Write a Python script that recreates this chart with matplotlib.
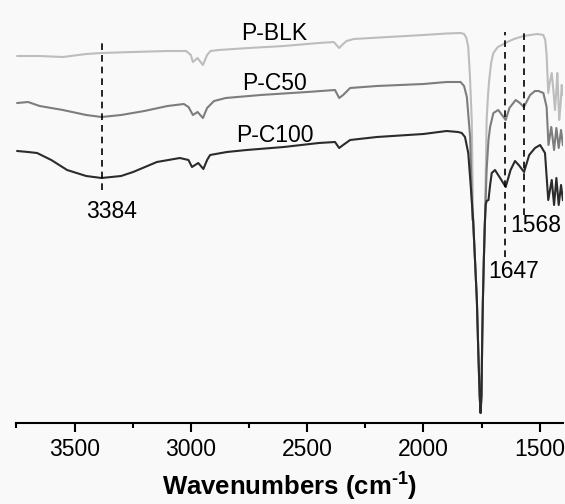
import matplotlib
matplotlib.use('Agg')
import matplotlib.pyplot as plt

plt.rcParams['font.family'] = ['Liberation Sans', 'DejaVu Sans']
plt.rcParams['mathtext.fontset'] = 'custom'
plt.rcParams['mathtext.rm'] = 'Liberation Sans:bold'
plt.rcParams['mathtext.bf'] = 'Liberation Sans:bold'

# common shape of the strong C=O band (wavenumber, level)
dip_wn = [1786, 1778, 1770, 1764, 1758, 1754, 1750, 1747, 1744, 1740]
dip_y = [203, 163, 123, 73, 28, 10, 28, 83, 123, 163]

# P-BLK
blk_wn = [3746, 3650, 3550, 3450, 3384, 3250, 3100, 3020, 3000, 2991, 2971, 2948, 2930, 2915,
          2880, 2750, 2600, 2450, 2385, 2370, 2362, 2350, 2330, 2300, 2150, 2000, 1900, 1840,
          1825, 1815, 1807, 1800, 1792] + dip_wn + \
         [1735, 1728, 1722, 1717, 1708, 1699, 1680, 1663, 1647, 1630, 1610, 1590, 1568, 1540,
          1510, 1484, 1476, 1470, 1463, 1456, 1448, 1441, 1434, 1428, 1424, 1420, 1416, 1410,
          1405, 1400]
blk_y = [367, 367, 366, 369, 370, 371, 372, 372, 368, 361, 365, 358, 368, 372,
         373, 375, 377, 380, 381, 377, 375, 378, 382, 384, 386, 388, 389.5, 390,
         389, 385, 376, 348, 303] + dip_y + \
        [203, 303, 328, 343, 361, 370, 376, 378, 380, 382, 384, 385.5, 387, 388,
         389, 388, 383, 368, 330, 341, 350, 333, 313, 333, 350, 328, 303, 318,
         338, 328]

# P-C50
c50_wn = [3746, 3700, 3650, 3550, 3450, 3384, 3300, 3200, 3100, 3030, 3010, 2991, 2971, 2948,
          2930, 2900, 2850, 2700, 2500, 2380, 2362, 2345, 2315, 2200, 2000, 1900, 1840, 1825,
          1813, 1799, 1789] + dip_wn + \
         [1735, 1728, 1720, 1713, 1699, 1678, 1665, 1646, 1630, 1603, 1585, 1568, 1541, 1520,
          1505, 1484, 1470, 1462, 1450, 1438, 1428, 1418, 1408, 1400]
c50_y = [320, 321, 317, 313, 308, 306, 308, 312, 317, 319, 316, 308, 311, 305,
         315, 322, 325, 328, 331, 333, 325, 328, 335, 337, 339, 341, 341, 337,
         326, 286, 203] + dip_y + \
        [203, 253, 283, 296, 310, 313, 309, 303, 315, 323, 320, 316, 328, 332,
         332, 330, 316, 278, 296, 273, 295, 275, 293, 278]

# P-C100
c100_wn = [3746, 3700, 3661, 3600, 3532, 3450, 3384, 3300, 3248, 3146, 3047, 3010, 2995, 2968,
           2946, 2930, 2917, 2845, 2760, 2600, 2450, 2380, 2362, 2345, 2315, 2200, 2000, 1900,
           1851, 1835, 1821, 1807, 1796, 1786] + dip_wn + \
          [1736, 1732, 1728, 1720, 1713, 1706, 1692, 1670, 1646, 1625, 1606, 1590, 1567, 1545,
           1520, 1498, 1477, 1463, 1448, 1438, 1428, 1418, 1408, 1400]
c100_y = [272, 271, 270, 263, 253, 247, 245, 247, 251, 261, 265, 263, 256, 260,
          254, 263, 268, 271, 273, 276, 280, 281, 275, 278, 283, 286, 289, 292,
          291, 290, 286, 270, 236, 203] + dip_y + \
         [198, 218, 222, 223, 238, 250, 253, 245, 236, 253, 262, 258, 251, 268,
          275, 278, 270, 223, 243, 218, 245, 218, 238, 223]

series = [('P-BLK', blk_wn, blk_y, '#bdbdbd', 390),
          ('P-C50', c50_wn, c50_y, '#7d7d7d', 340),
          ('P-C100', c100_wn, c100_y, '#2b2b2b', 288)]

# marked peaks: (wavenumber, top, bottom, label x, label y)
marks = [(3384, 384, 233, 3339, 211),
         (1647, 391, 166, 1611, 151),
         (1568, 393, 208, 1517, 198)]

fig = plt.figure(figsize=(5.65, 5.04), dpi=100, facecolor='#f9f9f9')
ax = fig.add_axes([16.4 / 565, 81 / 504, 546.5 / 565, 423 / 504])
ax.set_facecolor('#f9f9f9')

for name, wn, y, col, ly in series:
    ax.plot(wn, y, color=col, lw=1.5, solid_joinstyle='round')

for name, wn, y, col, ly in series:
    ax.text(2640, ly, name, ha='center', va='center', fontsize=16.5)

for wn, top, bot, lx, ly in marks:
    ax.plot([wn, wn], [bot, top], color='black', lw=1.2, dashes=(4, 3))
    ax.text(lx, ly, str(wn), ha='center', va='center', fontsize=16.5)

ax.set_xlim(3750, 1400)
ax.set_ylim(0, 423)
ax.set_xticks([3500, 3000, 2500, 2000, 1500])
ax.set_xticks([3750, 3250, 2750, 2250, 1750], minor=True)
ax.set_yticks([])
for s in ['left', 'top', 'right']:
    ax.spines[s].set_visible(False)
ax.spines['bottom'].set_linewidth(1.5)
ax.tick_params(axis='x', which='major', length=6.5, width=1.5, labelsize=16.5, pad=4)
ax.tick_params(axis='x', which='minor', length=3.6, width=1.5)
ax.set_xlabel(r'Wavenumbers (cm$^{\text{-1}}$)', fontsize=18.5, fontweight='bold', labelpad=6)

plt.savefig('out.png', dpi=100, facecolor=fig.get_facecolor())
